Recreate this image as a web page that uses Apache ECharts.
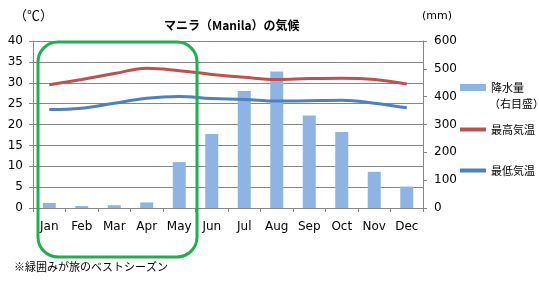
<!DOCTYPE html>
<html><head><meta charset="utf-8">
<script src="https://cdn.jsdelivr.net/npm/echarts@6/dist/echarts.min.js"></script>
<style>html,body{margin:0;padding:0;background:#fff}#c{width:539px;height:291px}</style>
</head><body><div id="c"></div>
<script>
const months = ['Jan','Feb','Mar','Apr','May','Jun','Jul','Aug','Sep','Oct','Nov','Dec'];
const rainfall = [18, 7, 10, 20, 165, 266, 420, 490, 332, 273, 130, 77];
const maxTemp = [29.5, 30.8, 32.2, 33.5, 32.9, 32.0, 31.3, 30.8, 31.0, 31.1, 30.8, 29.7];
const minTemp = [23.6, 23.9, 25.1, 26.3, 26.7, 26.2, 26.0, 25.6, 25.7, 25.8, 25.1, 24.0];
const tempTicks = [0, 40, 5];
const rainTicks = [0, 600, 100];

const FONT = "'DejaVu Sans', 'Noto Sans CJK JP', sans-serif";
const JFONT = "'Noto Sans CJK JP', sans-serif";
const chart = echarts.init(document.getElementById('c'));
const axisCol = '#868686';
const legText = {fontFamily: JFONT, fontSize: 11, color: '#000'};
chart.setOption({
  animation: false,
  textStyle: {fontFamily: FONT},
  title: {text: 'マニラ（Manila）の気候', left: 159, top: 14,
    textStyle: {fontFamily: JFONT, fontSize: 12, fontWeight: 'bold', color: '#000'}},
  grid: {left: 33, right: 116, top: 41, bottom: 83},
  legend: [
    {data: ['降水量'], left: 455, top: 77, itemWidth: 26, itemHeight: 7, icon: 'rect', textStyle: legText},
    {data: ['最高気温'], left: 455, top: 119, itemWidth: 26, itemHeight: 4, icon: 'rect', textStyle: legText},
    {data: ['最低気温'], left: 455, top: 160, itemWidth: 26, itemHeight: 4, icon: 'rect', textStyle: legText}
  ],
  xAxis: {type: 'category', data: months, boundaryGap: true,
    axisLine: {lineStyle: {color: axisCol}},
    axisTick: {show: true, length: 4, lineStyle: {color: axisCol}},
    axisLabel: {color: '#000', fontSize: 12, margin: 13, fontFamily: FONT}},
  yAxis: [
    {type: 'value', min: tempTicks[0], max: tempTicks[1], interval: tempTicks[2],
      axisLine: {show: true, lineStyle: {color: axisCol}},
      axisTick: {show: true, length: 4, lineStyle: {color: axisCol}},
      splitLine: {lineStyle: {color: axisCol, width: 1}},
      axisLabel: {color: '#000', fontSize: 12, margin: 10, fontFamily: FONT}},
    {type: 'value', min: rainTicks[0], max: rainTicks[1], interval: rainTicks[2], position: 'right',
      axisLine: {show: true, lineStyle: {color: axisCol}},
      axisTick: {show: true, length: 4, lineStyle: {color: axisCol}},
      splitLine: {show: false},
      axisLabel: {color: '#000', fontSize: 12, margin: 11, fontFamily: FONT}}
  ],
  series: [
    {name: '降水量', type: 'bar', yAxisIndex: 1, data: rainfall, barWidth: 13,
      itemStyle: {color: '#8eb4e3'}, z: 1},
    {name: '最高気温', type: 'line', yAxisIndex: 0, data: maxTemp, smooth: 0.4, showSymbol: false,
      lineStyle: {color: '#c0504d', width: 3}, itemStyle: {color: '#c0504d'}, z: 3},
    {name: '最低気温', type: 'line', yAxisIndex: 0, data: minTemp, smooth: 0.4, showSymbol: false,
      lineStyle: {color: '#4f81bd', width: 3}, itemStyle: {color: '#4f81bd'}, z: 3}
  ],
  graphic: [
    {type: 'rect', shape: {x: 38, y: 42, width: 159, height: 215, r: 20}, z: 10,
      style: {fill: 'none', stroke: '#1db050', lineWidth: 3}},
    {type: 'text', left: 489, top: 98, z: 10,
      style: {text: '（右目盛）', fontFamily: JFONT, fontSize: 11, fill: '#000'}},
    {type: 'text', left: 14, top: 9, z: 10,
      style: {text: '（℃）', fontFamily: JFONT, fontSize: 13, fill: '#000'}},
    {type: 'text', left: 422, top: 11, z: 10,
      style: {text: '(mm)', fontFamily: FONT, fontSize: 11, fill: '#000'}},
    {type: 'text', left: 14, top: 261, z: 10,
      style: {text: '※緑囲みが旅のベストシーズン', fontFamily: JFONT, fontSize: 11, fill: '#000'}}
  ]
});
</script></body></html>
